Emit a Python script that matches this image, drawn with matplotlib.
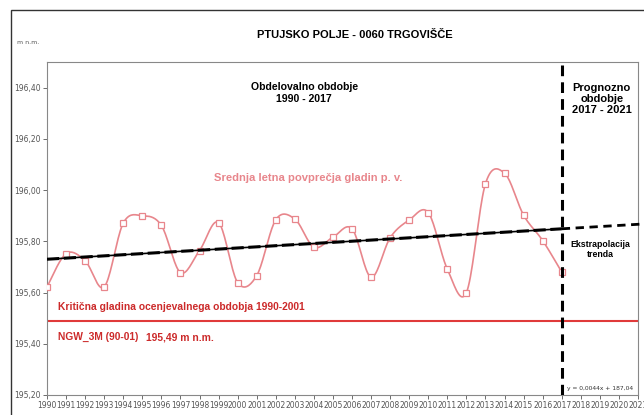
import numpy as np
import matplotlib
matplotlib.use("Agg")
import matplotlib.pyplot as plt
from matplotlib.patches import Rectangle

# mean annual groundwater levels (m n.m.)
years = list(range(1990, 2018))
levels = [195.622, 195.752, 195.724, 195.622, 195.871, 195.900, 195.862, 195.678,
          195.764, 195.873, 195.639, 195.666, 195.884, 195.887, 195.777, 195.816,
          195.849, 195.660, 195.814, 195.883, 195.912, 195.691, 195.600, 196.025,
          196.066, 195.902, 195.803, 195.680]
trend_start = 195.73    # trend value in 1990
trend_slope = 0.0044    # per year
critical_level = 195.49
xticks = list(range(1990, 2022))
yticks = [195.2, 195.4, 195.6, 195.8, 196.0, 196.2, 196.4]


def smooth(xs, ys, n=20):
    # excel-like smoothed line (bezier with 1/6 tangents through the points)
    xs = np.asarray(xs, float)
    ys = np.asarray(ys, float)
    px = np.concatenate([[xs[0]], xs, [xs[-1]]])
    py = np.concatenate([[ys[0]], ys, [ys[-1]]])
    outx, outy = [], []
    t = np.linspace(0, 1, n)
    for i in range(1, len(px) - 2):
        p0, p1, p2, p3 = py[i-1], py[i], py[i+1], py[i+2]
        q0, q1, q2, q3 = px[i-1], px[i], px[i+1], px[i+2]
        c1y, c2y = p1 + (p2 - p0) / 6, p2 - (p3 - p1) / 6
        c1x, c2x = q1 + (q2 - q0) / 6, q2 - (q3 - q1) / 6
        b = [(1-t)**3, 3*(1-t)**2*t, 3*(1-t)*t**2, t**3]
        outx.extend(b[0]*q1 + b[1]*c1x + b[2]*c2x + b[3]*q2)
        outy.extend(b[0]*p1 + b[1]*c1y + b[2]*c2y + b[3]*p2)
    return outx, outy


fig = plt.figure(figsize=(6.44, 4.15), dpi=100)
# outer frame of the excel chart (right and bottom edges fall outside)
fig.patches.append(Rectangle((11/644, -0.1), 1.2, 1 - 10/415 + 0.1,
                             transform=fig.transFigure, fill=False,
                             edgecolor='#333333', lw=1.0))
ax = fig.add_axes([47/644, 20/415, 591/644, 333/415])

pink = '#e8868c'
red = '#cc2a2a'
sx, sy = smooth(years, levels)
ax.plot(sx, sy, color=pink, lw=1.2, zorder=3)
ax.plot(years, levels, ls='none', marker='s', ms=5, mfc='white',
        mec=pink, mew=0.9, zorder=4)

# trend line and its extrapolation
tx = np.array([1990, 2017])
ax.plot(tx, trend_start + trend_slope*(tx - 1990), color='black', lw=1.2, zorder=5)
ax.plot(tx, trend_start + trend_slope*(tx - 1990), color='black', lw=2.2,
        ls=(0, (4, 1.5)), zorder=5)
ex = np.array([2017, 2021.2])
ax.plot(ex, trend_start + trend_slope*(ex - 1990), color='black', lw=2.0,
        ls=(0, (3, 2)), zorder=5, clip_on=False)

ax.axhline(critical_level, color='#e03a3a', lw=1.5, zorder=2)
ax.axvline(2017, color='black', lw=2.2, ls=(0, (3.5, 2)), zorder=6)

ax.set_xlim(1990, 2021)
ax.set_ylim(195.2, 196.5)
ax.set_xticks(xticks)
ax.set_xticklabels([str(y) for y in xticks])
ax.set_yticks(yticks)
ax.set_yticklabels([f"{v:.2f}".replace('.', ',') for v in yticks])
ax.tick_params(labelsize=5.5, colors='#555555', length=3, width=0.6, pad=1.5)
for s in ax.spines.values():
    s.set_color('#888888')
    s.set_linewidth(0.8)

fig.text(355/644, 1 - 35/415, 'PTUJSKO POLJE - 0060 TRGOVIŠČE', ha='center',
         va='center', fontsize=8, fontweight='bold', family='Liberation Sans')
fig.text(28/644, 1 - 42/415, 'm n.m.', ha='center', va='center', fontsize=4.5,
         color='#555555')

ax.text(2003.5, 196.38, 'Obdelovalno obdobje\n1990 - 2017', ha='center',
        va='center', fontsize=7.6, fontweight='bold', family='Liberation Sans')
ax.text(2019.1, 196.356, 'Prognozno\nobdobje\n2017 - 2021', ha='center',
        va='center', fontsize=8, fontweight='bold', family='Liberation Sans',
        linespacing=1.15)
ax.text(2019.0, 195.767, 'Ekstrapolacija\ntrenda', ha='center', va='center',
        fontsize=6.3, fontweight='bold', family='Liberation Sans')
ax.text(2003.7, 196.048, 'Srednja letna povprečja gladin p. v.', ha='center',
        va='center', fontsize=8.1, fontweight='bold', color=pink,
        family='Liberation Sans')
ax.text(1990.6, 195.544, 'Kritična gladina ocenjevalnega obdobja 1990-2001',
        ha='left', va='center', fontsize=7.4, fontweight='bold',
        color=red, family='Liberation Sans')
ax.text(1990.6, 195.427, 'NGW_3M (90-01)', ha='left', va='center',
        fontsize=7.4, fontweight='bold', color=red, family='Liberation Sans')
ax.text(1995.2, 195.423, '195,49 m n.m.', ha='left', va='center',
        fontsize=7.4, fontweight='bold', color=red, family='Liberation Sans')
ax.text(2017.3, 195.226, 'y = 0,0044x + 187,04', ha='left', va='center',
        fontsize=4.3, color='#333333')

fig.savefig('out.png', dpi=100)
